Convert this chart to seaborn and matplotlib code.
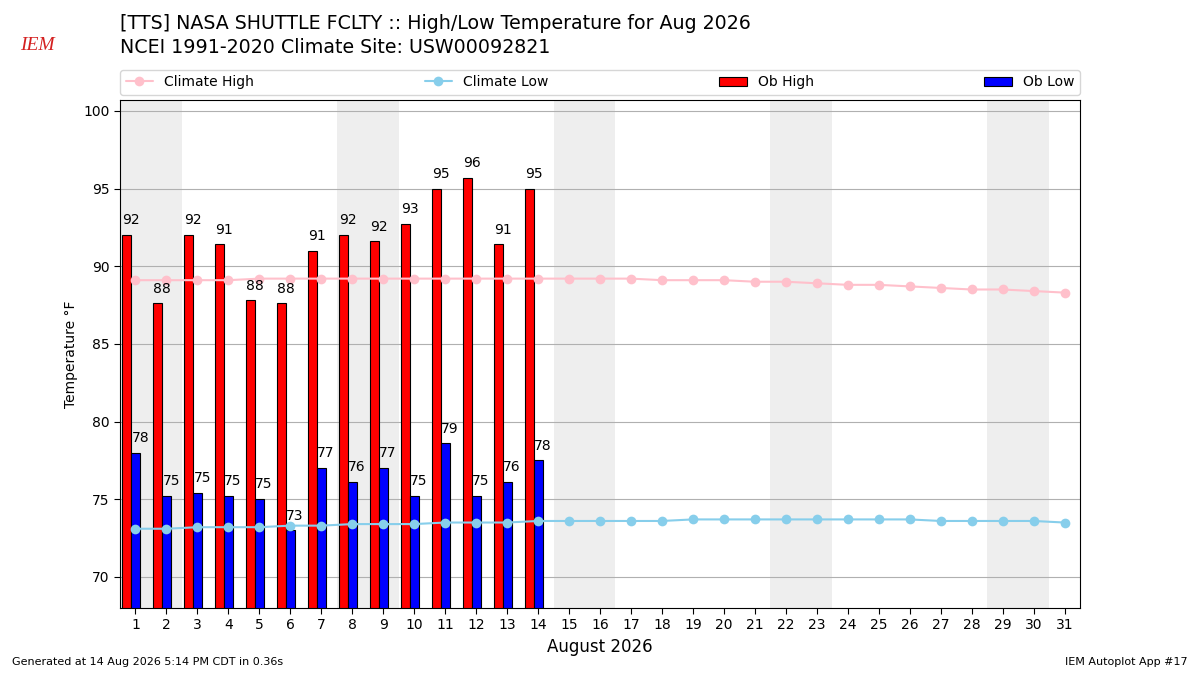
import numpy as np
import pandas as pd
import matplotlib
matplotlib.use("Agg")
import matplotlib.pyplot as plt
import seaborn as sb
from matplotlib.patches import Patch
from matplotlib.lines import Line2D

days = list(range(1, 32))
ob_high = [92.0, 87.6, 92.0, 91.4, 87.8, 87.6, 91.0, 92.0, 91.6, 92.7, 95.0, 95.7, 91.4, 95.0]
ob_low = [78.0, 75.2, 75.4, 75.2, 75.0, 73.0, 77.0, 76.1, 77.0, 75.2, 78.6, 75.2, 76.1, 77.5]
clim_high = [89.1, 89.1, 89.1, 89.1, 89.2, 89.2, 89.2, 89.2, 89.2, 89.2, 89.2, 89.2, 89.2, 89.2,
             89.2, 89.2, 89.2, 89.1, 89.1, 89.1, 89.0, 89.0, 88.9, 88.8, 88.8, 88.7, 88.6, 88.5,
             88.5, 88.4, 88.3]
clim_low = [73.1, 73.1, 73.2, 73.2, 73.2, 73.3, 73.3, 73.4, 73.4, 73.4, 73.5, 73.5, 73.5, 73.6,
            73.6, 73.6, 73.6, 73.6, 73.7, 73.7, 73.7, 73.7, 73.7, 73.7, 73.7, 73.7, 73.6, 73.6,
            73.6, 73.6, 73.5]
weekends = [1, 8, 15, 22, 29]  # saturdays, shaded with the sunday after

sb.set_style("ticks", {'text.color': 'black', 'axes.labelcolor': 'black',
                       'xtick.color': 'black', 'ytick.color': 'black',
                       'axes.edgecolor': 'black'})
plt.rcParams['font.family'] = ['DejaVu Sans']

clim = pd.DataFrame({'day': days, 'high': clim_high, 'low': clim_low})
obs = pd.DataFrame({'day': days[:len(ob_high)], 'high': ob_high, 'low': ob_low})

fig = plt.figure(figsize=(12, 6.75), dpi=100)
ax = fig.add_axes([0.1, 0.0993, 0.8, 0.7526])

for sat in weekends:
    ax.axvspan(sat - 0.5, sat + 1.5, color='#eeeeee', zorder=0, lw=0)

ax.bar(obs['day'] - 0.42, obs['high'], width=0.29, align='edge', color='red',
       edgecolor='black', lw=0.8, zorder=2)
ax.bar(obs['day'] - 0.13, obs['low'], width=0.29, align='edge', color='blue',
       edgecolor='black', lw=0.8, zorder=2)
for d, v in zip(obs['day'], obs['high']):
    ax.text(d - 0.42, v + 0.5, f"{v:.0f}", ha='left', va='bottom', fontsize=10, zorder=4)
for d, v in zip(obs['day'], obs['low']):
    ax.text(d - 0.13, v + 0.5, f"{v:.0f}", ha='left', va='bottom', fontsize=10, zorder=4)

sb.lineplot(data=clim, x='day', y='high', color='pink', marker='o', markersize=7,
            markeredgewidth=0, lw=1.5, ax=ax, zorder=3)
sb.lineplot(data=clim, x='day', y='low', color='skyblue', marker='o', markersize=7,
            markeredgewidth=0, lw=1.5, ax=ax, zorder=3)

ax.set_xlim(0.5, 31.5)
ax.set_ylim(min(ob_low) - 5, max(ob_high) + 5)
ax.set_xticks(days)
ax.tick_params(axis='both', labelsize=10, length=4, width=0.8)
ax.yaxis.grid(True, color='#b0b0b0', lw=0.8, zorder=1)
ax.set_axisbelow(True)
ax.set_xlabel("August 2026", fontsize=12)
ax.set_ylabel("Temperature \u00b0F", fontsize=10)
for s in ax.spines.values():
    s.set_color('black')
    s.set_linewidth(0.8)

handles = [
    Line2D([], [], color='pink', marker='o', markersize=7, markeredgewidth=0, lw=1.5),
    Line2D([], [], color='skyblue', marker='o', markersize=7, markeredgewidth=0, lw=1.5),
    Patch(facecolor='red', edgecolor='black', lw=0.8),
    Patch(facecolor='blue', edgecolor='black', lw=0.8),
]
ax.legend(handles, ["Climate High", "Climate Low", "Ob High", "Ob Low"], ncol=4,
          mode='expand', loc='lower left', bbox_to_anchor=(0, 1.01, 1, 0.05),
          borderaxespad=0, fontsize=10)

fig.text(0.1, 0.965, "[TTS] NASA SHUTTLE FCLTY :: High/Low Temperature for Aug 2026",
         fontsize=13.7, va='center')
fig.text(0.1, 0.929, "NCEI 1991-2020 Climate Site: USW00092821", fontsize=13.7, va='center')
fig.text(0.031, 0.932, "IEM", color='#d42020', fontsize=14, style='italic',
         family='Liberation Serif', ha='center', va='center')
fig.text(0.01, 0.015, "Generated at 14 Aug 2026 5:14 PM CDT in 0.36s", fontsize=8)
fig.text(0.99, 0.015, "IEM Autoplot App #17", fontsize=8, ha='right')

fig.savefig("out.png", dpi=100)
